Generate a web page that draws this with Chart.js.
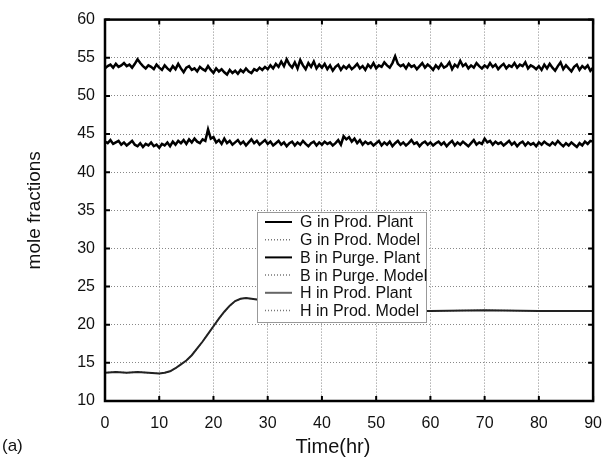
<!DOCTYPE html>
<html lang="en">
<head>
  <meta charset="UTF-8">
  <title>Mole fractions vs time</title>
  <script src="https://cdn.jsdelivr.net/npm/chart.js"></script>
  <style>
    body { margin: 0; background: #fff; }
    canvas { display: block; }
  </style>
</head>
<body>
  <canvas id="moleChart" width="615" height="461"></canvas>

  <script>
    // sampling step of the noisy plant series (hr)
    const STEP = 0.5;

    // G in product, one value per half hour, 0 .. 90 hr
    const gPlant = [
      53.6, 53.9, 54.1, 53.7, 54.2, 53.8, 54.0, 54.3, 53.9, 54.1, 53.7, 54.2, 54.8, 54.3, 53.9, 53.6, 54.0, 53.8, 53.5, 54.1,
      53.7, 53.4, 54.0, 53.6, 53.3, 53.9, 53.5, 54.2, 53.6, 53.1, 53.7, 53.9, 53.4, 53.6, 53.2, 53.8, 53.5, 53.3, 53.9, 53.4,
      53.0, 53.6, 53.2, 53.5, 53.1, 52.8, 53.4, 53.0, 53.3, 52.9, 53.4, 53.1, 53.6, 53.2, 53.0, 53.5, 53.3, 53.7, 53.4, 53.8,
      53.5, 54.0, 53.6, 54.2, 53.8, 54.5, 53.9, 54.8, 54.1, 53.7, 54.4, 53.6, 54.7, 54.0, 53.5, 54.3, 53.8, 54.5, 53.6, 54.1,
      53.7, 54.2, 53.5, 54.0, 53.3, 53.8, 54.1, 53.4, 53.9, 53.6, 54.0, 53.5, 53.8, 54.2, 53.6, 53.9, 53.4, 54.1, 53.7, 54.3,
      53.6, 54.0, 53.8, 54.4, 54.0, 53.7, 54.3, 55.2, 54.2, 53.9, 54.1, 53.6, 54.2, 53.8, 54.0, 53.5, 53.9, 54.3, 53.7, 54.1,
      53.8, 53.4, 54.0, 53.6, 54.2, 53.7, 53.9, 54.4, 53.5, 54.1, 53.8, 54.6, 53.9, 54.2, 53.6, 54.0, 53.7, 54.3, 53.9, 53.6,
      54.0, 53.7, 54.3, 53.8, 54.1, 53.5, 53.9, 54.2, 53.6, 54.0, 53.8, 54.3, 53.7, 54.1, 53.9, 54.4, 53.6, 54.0, 53.8, 53.5,
      53.9, 53.4, 54.1, 53.6, 54.2, 53.7, 53.3, 53.9, 54.4, 53.5, 54.0, 53.6, 53.2, 53.8, 54.1, 53.4, 53.9, 53.6, 54.0, 53.3,
      53.7
    ];

    // B in purge, one value per half hour, 0 .. 90 hr
    const bPlant = [
      44.0, 43.8, 44.2, 43.7, 43.9, 44.1, 43.6, 43.9, 43.5, 43.8, 44.1, 43.6, 43.4, 43.8, 43.3, 43.7, 43.5, 43.9, 43.4, 43.6,
      43.2, 43.7, 43.5, 43.9, 43.4, 44.0, 43.6, 44.1, 43.8, 44.2, 43.7, 44.3, 43.9, 44.4, 44.0, 43.8, 44.3, 44.1, 45.6, 44.4,
      44.6, 43.9, 44.2, 43.7, 44.4, 43.8, 44.1, 43.6, 43.9, 44.2, 43.7, 44.0, 43.5, 43.9, 44.3, 43.8, 44.1, 43.6, 43.9, 44.2,
      43.7, 44.0, 43.5, 43.8, 44.1, 43.6, 43.9, 43.4, 43.8, 44.0, 43.5, 43.9, 43.6, 44.1, 43.7, 43.4, 43.8, 44.0, 43.5, 43.9,
      43.6, 44.0, 43.7, 43.9, 43.5, 43.8, 44.2, 43.6, 44.7, 44.3, 44.6, 44.0, 44.4, 43.8, 44.2, 43.6, 44.0, 43.7, 43.9, 43.5,
      43.8, 44.1, 43.5, 43.9, 43.6, 44.0, 43.4, 43.8, 44.1, 43.6, 43.9, 43.5, 43.8, 44.2, 43.7, 43.9, 43.4, 43.8, 44.0, 43.6,
      43.9, 43.5, 43.8, 44.0, 43.6, 43.9, 43.4, 43.8, 44.1, 43.5, 43.9, 43.6, 44.0, 43.7, 43.4, 43.8, 44.2, 43.6, 43.9, 43.7,
      44.4, 43.9, 44.1, 43.6, 44.0, 43.7, 43.9, 43.5, 43.8, 44.1, 43.6, 43.9, 43.4, 43.8, 44.0, 43.5, 43.9, 43.6, 43.8, 43.4,
      43.9, 43.6, 44.0, 43.7, 43.5, 43.9, 43.6, 44.1, 43.7, 43.4, 43.8, 43.5, 43.9, 43.6, 43.3, 43.8, 43.5, 44.0, 43.7, 44.1,
      44.0
    ];

    // H in product: smooth step response
    const hTime  = [0, 2, 4, 6, 8, 10, 11, 12, 13, 14, 15, 16, 17, 18, 19, 20, 21, 22, 23, 24, 25, 26, 27, 28, 32, 38, 45, 52, 60, 70, 80, 90];
    const hPlant = [13.7, 13.8, 13.7, 13.8, 13.7, 13.6, 13.7, 13.9, 14.3, 14.8, 15.3, 16.0, 16.9, 17.8, 18.8, 19.8, 20.8, 21.7, 22.5, 23.1, 23.4, 23.5, 23.4, 23.3, 22.9, 22.4, 22.0, 21.8, 21.8, 21.9, 21.8, 21.8];

    // models track the plant closely
    const gModel = gPlant;
    const bModel = bPlant;
    const hModel = hPlant;

    const xTicks = [0, 10, 20, 30, 40, 50, 60, 70, 80, 90];
    const yTicks = [10, 15, 20, 25, 30, 35, 40, 45, 50, 55, 60];

    const halfHourly = arr => arr.map((v, i) => ({ x: i * STEP, y: v }));
    const onTimes = arr => arr.map((v, i) => ({ x: hTime[i], y: v }));

    const solid = (label, data, color, width) => ({
      label, data, borderColor: color, borderWidth: width,
      pointRadius: 0, fill: false, tension: 0
    });
    const dotted = (label, data) => ({
      label, data, borderColor: '#777', borderWidth: 1.5, borderDash: [1, 2],
      pointRadius: 0, fill: false, tension: 0
    });

    const FONT = '"Liberation Sans", Arial, Helvetica, sans-serif';

    // frame, inward ticks, x title and panel letter
    const framePlugin = {
      id: 'frame',
      afterDraw(chart) {
        const { ctx, chartArea: a, scales } = chart;
        ctx.save();
        ctx.strokeStyle = '#000';
        ctx.lineWidth = 2;
        xTicks.forEach(t => {
          const px = scales.x.getPixelForValue(t);
          ctx.beginPath();
          ctx.moveTo(px, a.bottom); ctx.lineTo(px, a.bottom - 5);
          ctx.moveTo(px, a.top); ctx.lineTo(px, a.top + 5);
          ctx.stroke();
        });
        yTicks.forEach(t => {
          const py = scales.y.getPixelForValue(t);
          ctx.beginPath();
          ctx.moveTo(a.left, py); ctx.lineTo(a.left + 5, py);
          ctx.moveTo(a.right, py); ctx.lineTo(a.right - 5, py);
          ctx.stroke();
        });
        ctx.lineWidth = 2.5;
        ctx.strokeRect(a.left, a.top, a.right - a.left, a.bottom - a.top);
        ctx.fillStyle = '#111';
        ctx.textBaseline = 'middle';
        ctx.font = '20px ' + FONT;
        ctx.textAlign = 'center';
        ctx.fillText('Time(hr)', 333, 447);
        ctx.font = '17px ' + FONT;
        ctx.textAlign = 'left';
        ctx.fillText('(a)', 2, 446);
        ctx.restore();
      }
    };

    // boxed legend sitting inside the plot
    const insideLegend = {
      id: 'insideLegend',
      afterDatasetsDraw(chart) {
        const { ctx } = chart;
        const box = { x: 257, y: 212, w: 169, h: 110 };
        ctx.save();
        ctx.fillStyle = '#fff';
        ctx.fillRect(box.x, box.y, box.w, box.h);
        ctx.strokeStyle = '#999';
        ctx.lineWidth = 1;
        ctx.strokeRect(box.x + 0.5, box.y + 0.5, box.w, box.h);
        ctx.font = '16px ' + FONT;
        ctx.textBaseline = 'middle';
        ctx.fillStyle = '#111';
        chart.data.datasets.forEach((ds, i) => {
          const cy = box.y + 10 + i * 17.7;
          ctx.strokeStyle = ds.label.startsWith('H') && !ds.borderDash ? '#666' : ds.borderColor;
          ctx.lineWidth = Math.min(ds.borderWidth, 2);
          ctx.setLineDash(ds.borderDash || []);
          ctx.beginPath();
          ctx.moveTo(box.x + 8, cy);
          ctx.lineTo(box.x + 35, cy);
          ctx.stroke();
          ctx.setLineDash([]);
          ctx.fillText(ds.label, box.x + 43, cy + 1);
        });
        ctx.restore();
      }
    };

    new Chart(document.getElementById('moleChart'), {
      type: 'line',
      data: {
        datasets: [
          solid('G in Prod. Plant', halfHourly(gPlant), '#000', 2.5),
          dotted('G in Prod. Model', halfHourly(gModel)),
          solid('B in Purge. Plant', halfHourly(bPlant), '#000', 2.5),
          dotted('B in Purge. Model', halfHourly(bModel)),
          solid('H in Prod. Plant', onTimes(hPlant), '#222', 2),
          dotted('H in Prod. Model', onTimes(hModel))
        ]
      },
      options: {
        responsive: false,
        animation: false,
        layout: { padding: { top: 13, right: 16, left: 0, bottom: 0 } },
        plugins: { legend: { display: false }, tooltip: { enabled: false } },
        scales: {
          x: {
            type: 'linear', min: 0, max: 90,
            afterBuildTicks: s => { s.ticks = xTicks.map(v => ({ value: v })); },
            afterFit: s => { s.height = 60; },
            grid: { color: '#888', lineWidth: 1, drawTicks: false },
            border: { display: false, dash: [1, 2] },
            ticks: { color: '#111', padding: 13, font: { family: FONT, size: 16 } },
            title: { display: false }
          },
          y: {
            min: 10, max: 60,
            afterBuildTicks: s => { s.ticks = yTicks.map(v => ({ value: v })); },
            afterFit: s => { s.width = 105; },
            grid: { color: '#888', lineWidth: 1, drawTicks: false },
            border: { display: false, dash: [1, 2] },
            ticks: { color: '#111', padding: 10, font: { family: FONT, size: 16 } },
            title: { display: true, text: 'mole fractions', color: '#111', font: { family: FONT, size: 19 }, padding: { top: 23, bottom: 0 } }
          }
        }
      },
      plugins: [framePlugin, insideLegend]
    });
  </script>
</body>
</html>
